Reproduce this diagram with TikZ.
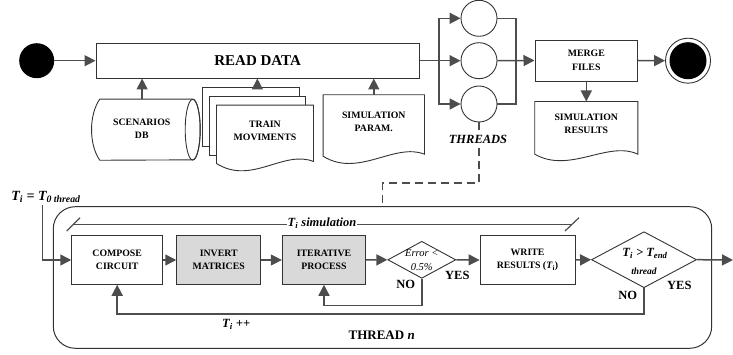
\documentclass[tikz,border=0pt]{standalone}
\usepackage{fontspec}
\setmainfont{Liberation Serif}
\usetikzlibrary{arrows.meta,shapes.geometric,calc}

\definecolor{linegray}{HTML}{4D4D4D}
\definecolor{edgegray}{HTML}{333333}
\definecolor{boxfill}{HTML}{D9D9D9}

\newcommand{\dgboxfont}{\bfseries\fontsize{9.8}{13.5}\selectfont}
\newcommand{\dgsub}[1]{\textsubscript{#1}}

\begin{document}
\begin{tikzpicture}[x=1pt,y=-1pt,
  every node/.style={inner sep=0pt},
  conn/.style={draw=linegray, line width=1.5pt, -{Triangle[length=11pt,width=11pt]}},
  wire/.style={draw=linegray, line width=1.5pt},
  dashline/.style={draw=linegray, line width=1.3pt, dash pattern=on 8pt off 5pt},
  box/.style={draw=edgegray, line width=0.9pt, fill=white, align=center, font=\dgboxfont},
  greybox/.style={box, fill=boxfill},
  outline/.style={draw=edgegray, line width=0.9pt, fill=white},
  doctext/.style={align=center, font=\dgboxfont},
  thread/.style={circle, draw=edgegray, line width=0.9pt, minimum size=36pt},
  decision/.style={diamond, draw=edgegray, line width=0.9pt, fill=white},
  tag/.style={font=\bfseries\fontsize{12.5}{15}\selectfont},
  mathtag/.style={font=\bfseries\itshape\fontsize{12.5}{14}\selectfont},
]
\useasboundingbox (0,0) rectangle (733,355);

% ---------- top row: start, read, threads, merge, stop ----------
\node[circle, fill=black, minimum size=35pt] (start) at (36.7,60.7) {};
\node[box, minimum width=323.3pt, minimum height=34.7pt,
      font=\bfseries\fontsize{15}{18}\selectfont] (read) at (257.6,60.7) {READ DATA};

\node[thread] (t1) at (479,18.3) {};
\node[thread] (t2) at (479,60.7) {};
\node[thread] (t3) at (479,104) {};

\node[box, minimum width=102.7pt, minimum height=41pt] (merge) at (586.3,60.5) {MERGE\\FILES};
\node[circle, draw=edgegray, line width=0.9pt, minimum size=45pt] (stop) at (688,60.7) {};
\fill (stop) circle (18.5pt);

% ---------- data sources ----------
% scenarios database (horizontal cylinder)
\node[minimum width=100.8pt, minimum height=60.7pt] (scen) at (142.1,129.7) {};
\draw[outline] ($(scen.north west)+(8.3,0)$) -- (scen.north east)
  arc[start angle=90, end angle=-90, x radius=7.5pt, y radius=30.35pt]
  -- ($(scen.south west)+(8.3,0)$)
  .. controls ($(scen.west)+(-2.7,15)$) and ($(scen.west)+(-2.7,-15)$) .. ($(scen.north west)+(8.3,0)$) -- cycle;
\draw[draw=edgegray, line width=0.9pt] (scen.east) ellipse[x radius=7.5pt, y radius=30.35pt];
\node[doctext] (scentxt) at (141.8,129) {SCENARIOS\\DB};

% train movements (stack of documents)
\node[outline, minimum width=97.3pt, minimum height=59pt] (tp1) at (250.65,117.2) {};
\node[outline, minimum width=96.7pt, minimum height=58.3pt] (tp2) at (257.35,125.85) {};
\node[minimum width=96.6pt, minimum height=58pt] (tm) at (265,134.3) {};
\draw[outline] (tm.north west) -- (tm.north east) -- ($(tm.south east)+(0,-2)$)
  .. controls ($(tm.south east)+(-30,-14)$) and ($(tm.south west)+(35,22)$) .. (tm.south west) -- cycle;
\node[doctext] (tmtxt) at (265,131) {TRAIN\\MOVIMENTS};

% simulation parameters
\node[minimum width=101pt, minimum height=61pt] (sp) at (373.8,125.5) {};
\draw[outline] (sp.north west) -- (sp.north east) -- ($(sp.south east)+(0,-2)$)
  .. controls ($(sp.south east)+(-30,-14)$) and ($(sp.south west)+(35,22)$) .. (sp.south west) -- cycle;
\node[doctext] (sptxt) at (373.8,122) {SIMULATION\\PARAM.};

% simulation results
\node[minimum width=102.7pt, minimum height=52.3pt] (res) at (586.3,127.85) {};
\draw[outline] (res.north west) -- (res.north east) -- (res.south east)
  .. controls ($(res.south east)+(-30,-14)$) and ($(res.south west)+(35,20)$) .. (res.south west) -- cycle;
\node[doctext] (restxt) at (586.3,124) {SIMULATION\\RESULTS};

% ---------- top row connectors ----------
\draw[conn] (start) -- (read.west);
\draw[conn] (scen.north) -- (scen.north |- read.south);
\coordinate (tmarr) at ($(tp1.north)+(6.7,0)$);
\draw[conn] (tmarr) -- (tmarr |- read.south);
\draw[conn] (sp.north) -- (sp.north |- read.south);

\coordinate (split) at (439,60.7);
\draw[wire] (read.east) -- (split);
\draw[conn] (split) |- (t1.west);
\draw[conn] (split) -- (t2.west);
\draw[conn] (split) |- (t3.west);

\coordinate (join) at (516,60.7);
\draw[wire] (t1.east) -| (join);
\draw[wire] (t3.east) -| (join);
\draw[conn] (t2.east) -- (merge.west);
\draw[conn] (merge.east) -- (stop.west);
\draw[conn] (merge.south) -- (res.north);

% ---------- thread detail ----------
\node[draw=edgegray, line width=1pt, rounded corners=22pt,
      minimum width=658.4pt, minimum height=141.6pt] (thread) at (382.5,277.5) {};

\coordinate (dk) at (382.7,183);
\draw[dashline] (t3.south) |- (dk) -- (dk |- thread.north);
\node[fill=white, inner sep=1.5pt, font=\bfseries\itshape\fontsize{12.5}{15}\selectfont] (thrlab) at (478,139.5) {THREADS};

\node[box, minimum width=91pt, minimum height=48.6pt] (comp) at (117.2,260) {COMPOSE\\CIRCUIT};
\node[greybox, minimum width=84pt, minimum height=48.6pt] (inv) at (218.7,260) {INVERT\\MATRICES};
\node[greybox, minimum width=83.4pt, minimum height=48.6pt] (iter) at (324,260) {ITERATIVE\\PROCESS};
\node[decision, minimum width=68pt, minimum height=37pt] (err) at (421.8,259.8) {};
\node[align=center, font=\itshape\fontsize{10.5}{13.3}\selectfont] (errtxt) at (421.8,260) {Error <\\0.5\%};
\node[box, minimum width=95pt, minimum height=48.6pt] (write) at (527.5,260) {WRITE\\RESULTS (\textit{T}\dgsub{i})};
\node[decision, minimum width=105pt, minimum height=56pt] (tchk) at (644,259.7) {};
\node[mathtag] (tchkA) at (645,253.3) {T\dgsub{i} > T\dgsub{end}};
\node[font=\bfseries\itshape\fontsize{9.5}{11}\selectfont] (tchkB) at (644,271.7) {thread};
\coordinate (outc) at (733,260);

% time-step bracket
\coordinate (simL) at (73,224.3);
\coordinate (simR) at (572,224.3);
\draw[draw=linegray, line width=1.2pt] (simL) -- (simR);
\draw[draw=linegray, line width=1.2pt] ($(simL)+(-6.3,6.7)$) -- ($(simL)+(7,-6.6)$);
\draw[draw=linegray, line width=1.2pt] ($(simR)+(-7,6.7)$) -- ($(simR)+(7,-6.6)$);
\node[fill=white, inner sep=1pt, mathtag] (simlab) at (322,223.5) {T\dgsub{i} simulation};

% initial time
\node[font=\bfseries\itshape\fontsize{14}{16}\selectfont] (t0lab) at (46,196.7) {T\dgsub{i} = T\dgsub{0 thread}};
\coordinate (t0c) at (42.7,205);
\draw[conn] (t0c) |- (comp.west);

% flow inside the thread
\draw[conn] (comp.east) -- (inv.west);
\draw[conn] (inv.east) -- (iter.west);
\draw[conn] (iter.east) -- (err.west);
\draw[conn] (err.east) -- (write.west);
\draw[conn] (write.east) -- (tchk.west);
\draw[conn] (tchk.east) -- (outc);

\coordinate (noloop) at (421.8,305.7);
\draw[conn] (err.south) -- (noloop) -| (iter.south);
\coordinate (steploop) at (644,314);
\draw[conn] (tchk.south) -- (steploop) -| (comp.south);

\node[tag] (no1) at (405.7,284.3) {NO};
\node[tag] (yes1) at (457.3,275) {YES};
\node[tag] (no2) at (627.7,295) {NO};
\node[tag] (yes2) at (679.3,285) {YES};
\node[mathtag] (inc) at (236.2,324) {T\dgsub{i} ++};
\node[font=\bfseries\fontsize{13}{15}\selectfont] (thrn) at (381.7,335.7) {THREAD \textit{n}};
\end{tikzpicture}
\end{document}
